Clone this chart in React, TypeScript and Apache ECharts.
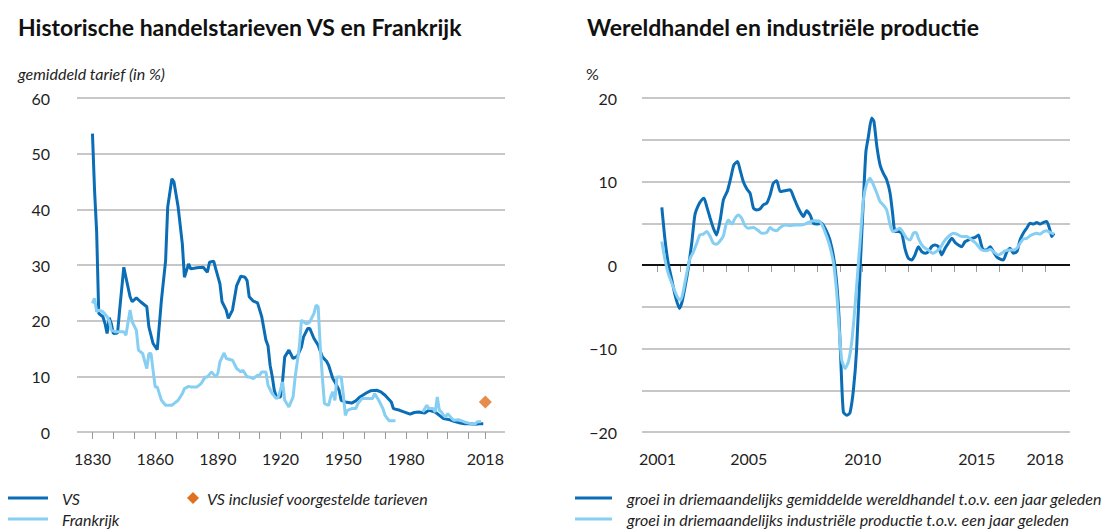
import React, { useEffect, useRef } from "react";
import * as echarts from "echarts";

// ---------- Data ----------
const leftTitle = "Historische handelstarieven VS en Frankrijk";
const rightTitle = "Wereldhandel en industriële productie";
const leftUnit = "gemiddeld tarief (in %)";
const rightUnit = "%";

const leftTickYears = [1830, 1840, 1850, 1860, 1870, 1880, 1890, 1900, 1910, 1920, 1930, 1940, 1950, 1960, 1970, 1980, 1990, 2000, 2010, 2018];
const leftLabelYears = [1830, 1860, 1890, 1920, 1950, 1980, 2018];
const rightTickYears = [2001, 2002, 2003, 2004, 2005, 2006, 2007, 2008, 2009, 2010, 2011, 2012, 2013, 2014, 2015, 2016, 2017, 2018];
const rightLabelYears = [2001, 2005, 2010, 2015, 2018];

const vsData = [
  [1830, 53.6], [1831, 43.4], [1832, 36], [1833, 21.3], [1835, 20.7], [1836, 19.5], [1837, 17.7], [1838, 20.5], [1839, 19.5], [1840, 17.7],
  [1842, 17.8], [1843, 21.9], [1845, 29.6], [1846, 27.8], [1848, 24.3], [1849, 23.4], [1851, 24.1], [1853, 23.4], [1856, 22.5], [1857, 18.9],
  [1859, 15.9], [1861, 14.8], [1863, 23.7], [1865, 30.8], [1866, 40.4], [1868, 45.5], [1869, 44.9], [1871, 40.4], [1873, 33.8], [1874, 27.8],
  [1876, 30.2], [1877, 29.3], [1880, 29.5], [1883, 29.6], [1885, 28.7], [1886, 30.5], [1888, 30.7], [1889, 29.3], [1891, 26.6], [1892, 23.4],
  [1894, 21.9], [1895, 20.4], [1897, 21.9], [1899, 26.3], [1901, 28], [1903, 27.8], [1904, 27.2], [1905, 24.3], [1907, 23.5], [1909, 23.2],
  [1911, 20.7], [1913, 16.5], [1914, 15.5], [1915, 12], [1916, 10], [1917, 7.5], [1918, 6.3], [1920, 6.3], [1921, 9.3], [1922, 13.5],
  [1924, 14.7], [1926, 13.2], [1928, 13.6], [1930, 15.3], [1931, 17.1], [1933, 18.6], [1934, 18.6], [1936, 16.8], [1938, 15.6], [1940, 13.5],
  [1942, 12.7], [1943, 12], [1945, 9.6], [1946, 9], [1948, 7.5], [1949, 5.7], [1951, 5.4], [1954, 5.2], [1956, 5.6], [1958, 6.3],
  [1961, 7], [1963, 7.4], [1966, 7.5], [1968, 7.2], [1970, 6.6], [1973, 5.4], [1974, 4.2], [1977, 3.9], [1979, 3.6], [1982, 3.2],
  [1984, 3.5], [1986, 3.6], [1989, 3.4], [1991, 3.9], [1994, 3.6], [1996, 3.0], [1998, 2.4], [2001, 2.2], [2003, 1.9], [2006, 1.6],
  [2008, 1.5], [2010, 1.5], [2013, 1.4], [2015, 1.5], [2017, 1.5],
];

const franceData = [
  [1830, 23.1], [1831, 24], [1832, 21.6], [1833, 21.9], [1835, 21.6], [1837, 20.7], [1838, 20], [1839, 18.3], [1841, 18], [1843, 18],
  [1845, 18], [1846, 17.4], [1848, 21.9], [1849, 19.8], [1851, 18.3], [1852, 14.7], [1854, 14.1], [1856, 11.4], [1857, 14.1], [1858, 14.1],
  [1860, 8.1], [1861, 8.1], [1863, 5.7], [1865, 4.8], [1868, 4.8], [1869, 5.1], [1871, 5.7], [1873, 6.9], [1874, 7.8], [1876, 8.2],
  [1877, 8.1], [1880, 8.1], [1882, 8.7], [1884, 9.9], [1885, 9.9], [1887, 10.8], [1889, 9.9], [1890, 10.5], [1891, 12.6], [1893, 14.2],
  [1894, 13.2], [1897, 12.9], [1899, 11.4], [1901, 10.8], [1902, 11.1], [1904, 9.9], [1905, 9.9], [1907, 9.6], [1909, 10.2], [1910, 10.2],
  [1911, 10.8], [1913, 10.8], [1914, 8.4], [1916, 6.9], [1918, 6], [1919, 6.3], [1921, 9], [1922, 5.7], [1924, 4.5], [1926, 6.3],
  [1927, 9.9], [1929, 15.3], [1930, 20.1], [1932, 19.5], [1933, 19.5], [1934, 19.8], [1936, 21.3], [1937, 22.8], [1938, 22.5], [1939, 15.3],
  [1940, 9.9], [1941, 5.1], [1943, 4.8], [1944, 6.3], [1945, 7.2], [1946, 5.7], [1947, 9.9], [1949, 9.9], [1950, 6.9], [1951, 3],
  [1952, 3.9], [1954, 4.2], [1956, 4.2], [1957, 5.1], [1959, 6], [1962, 6], [1964, 6], [1965, 6.9], [1967, 5.7], [1969, 4.2],
  [1970, 3], [1972, 2], [1975, 2], [1981, "-"], [1988, 3.6], [1990, 4.8], [1991, 4.2], [1993, 4.2], [1994, 3.6], [1995, 6.3],
  [1996, 3.9], [1997, 3.6], [1998, 3], [1999, 2.7], [2000, 3.3], [2002, 2.4], [2003, 2.1], [2005, 2.2], [2006, 2.1], [2008, 1.8],
  [2010, 1.6], [2011, 1.5], [2013, 1.4], [2014, 1.8], [2016, 1.9],
];

const proposedData = [[2018, 5.4]];

const tradeData = [
  [2001.19, 6.9], [2001.33, 3], [2001.47, 0.2], [2001.63, -1.8], [2001.77, -3.6], [2001.96, -5.2], [2002.06, -4.6], [2002.21, -2.6], [2002.36, -0.2], [2002.5, 2.6],
  [2002.64, 6], [2002.8, 7.2], [2002.94, 7.8], [2003.04, 8], [2003.16, 7], [2003.31, 5.6], [2003.45, 4.4], [2003.59, 3.6], [2003.75, 5.4], [2003.89, 7.8],
  [2004.07, 8.9], [2004.21, 10.4], [2004.35, 12], [2004.51, 12.4], [2004.62, 11.4], [2004.76, 10], [2004.92, 9.1], [2005.06, 8.6], [2005.21, 6.8], [2005.35, 6.6],
  [2005.49, 6.7], [2005.64, 7.2], [2005.79, 7.4], [2005.94, 8.4], [2006.08, 9.8], [2006.23, 10.1], [2006.38, 8.8], [2006.59, 8.9], [2006.82, 9], [2006.96, 8.2],
  [2007.11, 7.2], [2007.25, 6.4], [2007.4, 5.8], [2007.54, 6.5], [2007.69, 6], [2007.84, 5], [2007.99, 4.9], [2008.2, 5], [2008.42, 4], [2008.56, 3],
  [2008.72, 1], [2008.86, -2.2], [2008.96, -6.2], [2009.05, -12.2], [2009.15, -17.6], [2009.3, -18], [2009.44, -17.7], [2009.59, -15], [2009.73, -10.2], [2009.89, -0.2],
  [2010.03, 7.8], [2010.14, 13.6], [2010.25, 15.4], [2010.39, 17.6], [2010.49, 17.2], [2010.62, 14.2], [2010.76, 12], [2010.9, 11], [2011.05, 10.2], [2011.2, 8.6],
  [2011.31, 6.2], [2011.42, 4], [2011.57, 4], [2011.71, 3.8], [2011.85, 2], [2012, 0.8], [2012.15, 0.6], [2012.29, 1.2], [2012.44, 2.2], [2012.59, 1.6],
  [2012.74, 1.4], [2012.88, 1.6], [2013.02, 2.2], [2013.17, 2.4], [2013.32, 2.2], [2013.46, 1.2], [2013.61, 2], [2013.75, 2.6], [2013.91, 3.2], [2014.05, 2.7],
  [2014.19, 2.4], [2014.34, 2.2], [2014.49, 2.8], [2014.64, 3], [2014.78, 3.2], [2014.93, 3.3], [2015.08, 3.6], [2015.18, 2.6], [2015.29, 1.8], [2015.44, 1.8],
  [2015.59, 2.2], [2015.73, 1.6], [2015.87, 1], [2016.03, 0.7], [2016.17, 0.6], [2016.32, 1.6], [2016.46, 2], [2016.61, 1.4], [2016.76, 1.6], [2016.9, 3],
  [2017.04, 3.8], [2017.19, 4.4], [2017.34, 5], [2017.49, 4.9], [2017.63, 5.1], [2017.77, 4.9], [2017.93, 5.1], [2018.07, 5.2], [2018.21, 4.2], [2018.29, 3.4],
  [2018.39, 3.8],
];

const productionData = [
  [2001.19, 2.8], [2001.33, 0.6], [2001.47, -1], [2001.63, -2.2], [2001.77, -3.2], [2001.91, -4], [2002.02, -4.2], [2002.14, -3], [2002.28, -1], [2002.43, 0.8],
  [2002.58, 1.6], [2002.72, 2.6], [2002.86, 3.6], [2003.01, 3.7], [2003.16, 4], [2003.31, 3.4], [2003.45, 2.6], [2003.59, 2.5], [2003.75, 2.9], [2003.89, 3.5],
  [2004, 4.8], [2004.11, 5.4], [2004.26, 4.9], [2004.4, 5.6], [2004.54, 6], [2004.69, 5.6], [2004.84, 4.7], [2004.99, 4.4], [2005.21, 4.5], [2005.43, 4.1],
  [2005.57, 3.8], [2005.79, 3.9], [2005.94, 4.5], [2006.08, 4.2], [2006.23, 4.1], [2006.38, 4.5], [2006.59, 4.8], [2006.82, 4.7], [2007.03, 4.8], [2007.25, 4.8],
  [2007.47, 4.9], [2007.69, 5.2], [2007.91, 5.3], [2008.13, 5.2], [2008.28, 4.4], [2008.42, 3.4], [2008.56, 2.2], [2008.72, 0.2], [2008.86, -3.4], [2008.98, -8.2],
  [2009.08, -11.4], [2009.23, -12.4], [2009.37, -11.6], [2009.51, -9.4], [2009.63, -6], [2009.73, -2.6], [2009.89, 3], [2010.03, 7.8], [2010.18, 9.8], [2010.32, 10.4],
  [2010.47, 9.6], [2010.62, 8.6], [2010.76, 7.6], [2010.9, 7.2], [2011.05, 6.6], [2011.2, 4.8], [2011.31, 4], [2011.49, 4.2], [2011.63, 4.4], [2011.79, 3.8],
  [2011.93, 3.2], [2012.08, 3], [2012.22, 3.8], [2012.34, 3.9], [2012.44, 3.2], [2012.59, 2.4], [2012.74, 2], [2012.88, 1.8], [2013.07, 1.4], [2013.21, 1.6],
  [2013.39, 2], [2013.56, 2.8], [2013.75, 3.4], [2013.98, 3.8], [2014.12, 3.7], [2014.34, 3.4], [2014.56, 3.4], [2014.78, 3], [2014.93, 2.7], [2015.08, 2.2],
  [2015.22, 1.8], [2015.44, 1.7], [2015.59, 1.9], [2015.73, 1.6], [2015.95, 1.2], [2016.09, 1.4], [2016.24, 1.7], [2016.42, 1.8], [2016.61, 1.8], [2016.76, 2],
  [2016.9, 2.6], [2017.04, 3.1], [2017.19, 3.2], [2017.34, 3.5], [2017.49, 3.7], [2017.63, 3.8], [2017.77, 3.7], [2017.93, 4], [2018.07, 4.1], [2018.21, 3.9],
  [2018.39, 3.7],
];

const legendLeft = ["VS", "Frankrijk"];
const legendProposed = "VS inclusief voorgestelde tarieven";
const legendRight = [
  "groei in driemaandelijks gemiddelde wereldhandel t.o.v. een jaar geleden",
  "groei in driemaandelijks industriële productie t.o.v. een jaar geleden",
];

// ---------- Styles ----------
const DARK = "#0a6db5";
const LIGHT = "#86cff2";
const ORANGE = "#e0701e";
const GRID = "#b5b5b5";
const TEXT = "#1e1e1e";
const FONT = "Lato, 'Noto Sans', sans-serif";
const LABEL_SIZE = 16;
const LEGEND_SIZE = 16;

export default function App() {
  const ref = useRef<HTMLDivElement>(null);

  useEffect(() => {
    if (!ref.current) return;
    const chart = echarts.init(ref.current, undefined, { renderer: "svg" });

    const xAxisCommon = (min: number, max: number, ticks: number[], labels: number[], gridIndex: number) => ({
      type: "value",
      gridIndex,
      min,
      max,
      offset: 11,
      axisLine: { show: false },
      splitLine: { show: false },
      axisTick: { show: true, length: 7, customValues: ticks, lineStyle: { color: "#9a9a9a", width: 1 } },
      axisLabel: {
        customValues: labels,
        margin: 7,
        color: TEXT,
        fontSize: LABEL_SIZE,
        fontFamily: FONT,
        formatter: (v: number) => String(Math.round(v)),
      },
    });

    const legendText = (text: string, x: number, y: number) => ({
      type: "text",
      x,
      y,
      style: { text, fontSize: LEGEND_SIZE, fontStyle: "italic", fill: TEXT, fontFamily: FONT, verticalAlign: "middle" },
    });

    const option: any = {
      animation: false,
      textStyle: { fontFamily: FONT },
      grid: [
        { left: 77, top: 98, width: 428, height: 334 },
        { left: 642, top: 98, width: 428, height: 334 },
      ],
      xAxis: [
        xAxisCommon(1822.6, 2027.4, leftTickYears, leftLabelYears, 0),
        xAxisCommon(2000.32, 2019.09, rightTickYears, rightLabelYears, 1),
      ],
      yAxis: [
        {
          type: "value",
          gridIndex: 0,
          min: 0,
          max: 60,
          interval: 10,
          axisLine: { show: false },
          axisTick: { show: false },
          axisLabel: { color: TEXT, fontSize: LABEL_SIZE, fontFamily: FONT, margin: 27 },
          splitLine: { lineStyle: { color: GRID, width: 1.5 } },
        },
        {
          type: "value",
          gridIndex: 1,
          min: -20,
          max: 20,
          interval: 5,
          axisLine: { show: false },
          axisTick: { show: false },
          axisLabel: {
            color: TEXT,
            fontSize: LABEL_SIZE,
            fontFamily: FONT,
            margin: 25,
            formatter: (v: number) => (v % 10 === 0 ? (v < 0 ? "\u2212" + Math.abs(v) : String(v)) : ""),
          },
          splitLine: { lineStyle: { color: GRID, width: 1.5 } },
        },
      ],
      series: [
        {
          name: legendLeft[0],
          type: "line",
          xAxisIndex: 0,
          yAxisIndex: 0,
          data: vsData,
          showSymbol: false,
          lineStyle: { color: DARK, width: 3 },
          itemStyle: { color: DARK },
          z: 3,
        },
        {
          name: legendLeft[1],
          type: "line",
          xAxisIndex: 0,
          yAxisIndex: 0,
          data: franceData,
          showSymbol: false,
          connectNulls: false,
          lineStyle: { color: LIGHT, width: 3 },
          itemStyle: { color: LIGHT },
          z: 4,
        },
        {
          name: legendProposed,
          type: "scatter",
          xAxisIndex: 0,
          yAxisIndex: 0,
          data: proposedData,
          symbol: "diamond",
          symbolSize: 13,
          itemStyle: { color: ORANGE },
          z: 5,
        },
        {
          name: legendRight[0],
          type: "line",
          xAxisIndex: 1,
          yAxisIndex: 1,
          data: tradeData,
          showSymbol: false,
          smooth: 0.2,
          lineStyle: { color: DARK, width: 3 },
          itemStyle: { color: DARK },
          z: 3,
          markLine: {
            silent: true,
            symbol: "none",
            label: { show: false },
            lineStyle: { color: "#111", width: 2, type: "solid" },
            data: [{ yAxis: 0 }],
            z: 2,
          },
        },
        {
          name: legendRight[1],
          type: "line",
          xAxisIndex: 1,
          yAxisIndex: 1,
          data: productionData,
          showSymbol: false,
          smooth: 0.2,
          lineStyle: { color: LIGHT, width: 3 },
          itemStyle: { color: LIGHT },
          z: 4,
        },
      ],
      graphic: [
        { type: "text", x: 18, y: 27, style: { text: leftTitle, fontSize: 23, fontWeight: "bold", fill: "#111", fontFamily: FONT, verticalAlign: "middle" } },
        { type: "text", x: 587, y: 27, style: { text: rightTitle, fontSize: 23, fontWeight: "bold", fill: "#111", fontFamily: FONT, verticalAlign: "middle" } },
        { type: "text", x: 18, y: 73, style: { text: leftUnit, fontSize: 16, fontStyle: "italic", fill: TEXT, fontFamily: FONT, verticalAlign: "middle" } },
        { type: "text", x: 586, y: 73, style: { text: rightUnit, fontSize: 16, fill: TEXT, fontFamily: FONT, verticalAlign: "middle" } },
        // left legend
        { type: "line", shape: { x1: 8, y1: 498, x2: 48, y2: 498 }, style: { stroke: DARK, lineWidth: 3 } },
        legendText(legendLeft[0], 62, 498),
        { type: "line", shape: { x1: 8, y1: 519, x2: 48, y2: 519 }, style: { stroke: LIGHT, lineWidth: 3 } },
        legendText(legendLeft[1], 62, 519),
        { type: "polygon", shape: { points: [[193, 492], [199, 498], [193, 504], [187, 498]] }, style: { fill: ORANGE } },
        legendText(legendProposed, 207, 498),
        // right legend
        { type: "line", shape: { x1: 575, y1: 498, x2: 612, y2: 498 }, style: { stroke: DARK, lineWidth: 3 } },
        legendText(legendRight[0], 627, 498),
        { type: "line", shape: { x1: 575, y1: 519, x2: 612, y2: 519 }, style: { stroke: LIGHT, lineWidth: 3 } },
        legendText(legendRight[1], 627, 519),
      ],
    };

    chart.setOption(option);
    return () => chart.dispose();
  }, []);

  return (
    <div
      ref={ref}
      style={{ position: "fixed", left: 0, top: 0, width: 1110, height: 529, background: "#fff" }}
    />
  );
}
